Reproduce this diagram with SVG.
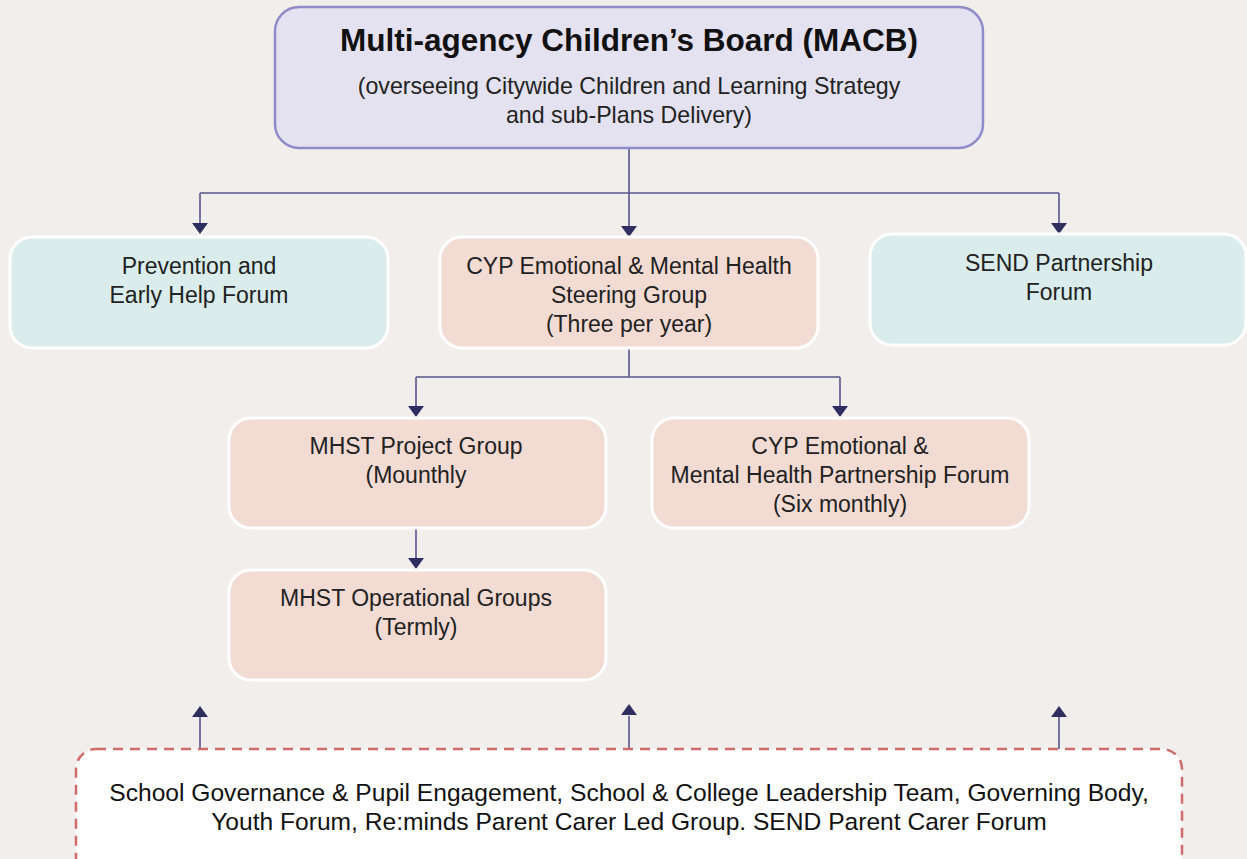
<svg xmlns="http://www.w3.org/2000/svg" width="1247" height="859" viewBox="0 0 1247 859">
<style>
.t{font-family:"Liberation Sans",Arial,sans-serif;font-size:23px;fill:#222;text-anchor:middle}
.sub{font-family:"Liberation Sans",Arial,sans-serif;font-size:23.2px;fill:#222;text-anchor:middle}
.title{font-family:"Liberation Sans",Arial,sans-serif;font-size:31.5px;font-weight:bold;fill:#111;text-anchor:middle}
.bt{font-family:"Liberation Sans",Arial,sans-serif;font-size:24.6px;fill:#111;text-anchor:middle}
.teal{fill:#daedec;stroke:#ffffff;stroke-width:3}
.pink{fill:#f2dbd3;stroke:#ffffff;stroke-width:3}
.ln{fill:none;stroke:#55578f;stroke-width:1.6}
.ah{fill:#2e2f5e}
</style>
<rect width="1247" height="859" fill="#f2eeeb"/>
<g id="connectors">
<path class="ln" d="M629 148V193M200 193H1059M200 193V224M629 193V226M1059 193V224"/>
<polygon class="ah" points="192,223 208,223 200,234"/>
<polygon class="ah" points="621,226 637,226 629,237"/>
<polygon class="ah" points="1051,223 1067,223 1059,234"/>
<path class="ln" d="M629 348V377M416 377H840M416 377V406M840 377V406"/>
<polygon class="ah" points="408,406 424,406 416,417"/>
<polygon class="ah" points="832,406 848,406 840,417"/>
<path class="ln" d="M416 528V558"/>
<polygon class="ah" points="408,558 424,558 416,569"/>
<path class="ln" d="M200 749V716M629 749V716M1059 749V716"/>
<polygon class="ah" points="192,717 208,717 200,706"/>
<polygon class="ah" points="621,715 637,715 629,704"/>
<polygon class="ah" points="1051,717 1067,717 1059,706"/>
</g>
<g id="macb">
<rect x="275" y="7" width="708" height="141" rx="24" fill="#e4e2f0" stroke="#8e8bc9" stroke-width="2.5"/>
<text class="title" x="629" y="51">Multi-agency Children’s Board (MACB)</text>
<text class="sub" x="629" y="94">(overseeing Citywide Children and Learning Strategy</text>
<text class="sub" x="629" y="123">and sub-Plans Delivery)</text>
</g>
<g id="prevention">
<rect class="teal" x="10" y="237" width="378" height="111" rx="22"/>
<text class="t" x="199" y="274">Prevention and</text>
<text class="t" x="199" y="303">Early Help Forum</text>
</g>
<g id="steering">
<rect class="pink" x="440" y="237" width="378" height="111" rx="22"/>
<text class="t" x="629" y="274">CYP Emotional &amp; Mental Health</text>
<text class="t" x="629" y="303">Steering Group</text>
<text class="t" x="629" y="332">(Three per year)</text>
</g>
<g id="send">
<rect class="teal" x="870" y="234" width="376" height="111" rx="22"/>
<text class="t" x="1059" y="271">SEND Partnership</text>
<text class="t" x="1059" y="300">Forum</text>
</g>
<g id="mhst-project">
<rect class="pink" x="229" y="418" width="377" height="110" rx="22"/>
<text class="t" x="416" y="454">MHST Project Group</text>
<text class="t" x="416" y="483">(Mounthly</text>
</g>
<g id="partnership">
<rect class="pink" x="652" y="418" width="377" height="110" rx="22"/>
<text class="t" x="840" y="454">CYP Emotional &amp;</text>
<text class="t" x="840" y="483">Mental Health Partnership Forum</text>
<text class="t" x="840" y="512">(Six monthly)</text>
</g>
<g id="mhst-operational">
<rect class="pink" x="229" y="570" width="377" height="110" rx="22"/>
<text class="t" x="416" y="606">MHST Operational Groups</text>
<text class="t" x="416" y="635">(Termly)</text>
</g>
<g id="engagement">
<rect x="76" y="749" width="1106" height="130" rx="20" fill="#ffffff" stroke="#cf6b6b" stroke-width="2.5" stroke-dasharray="10,7"/>
<text class="bt" x="629" y="801">School Governance &amp; Pupil Engagement, School &amp; College Leadership Team, Governing Body,</text>
<text class="bt" x="629" y="830">Youth Forum, Re:minds Parent Carer Led Group. SEND Parent Carer Forum</text>
</g>
</svg>
